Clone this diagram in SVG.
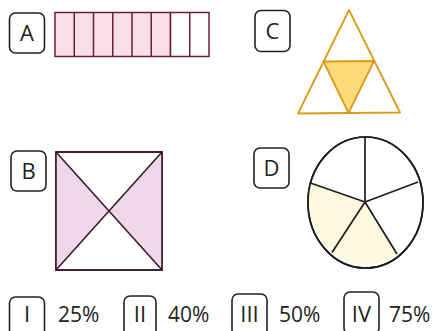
<svg xmlns="http://www.w3.org/2000/svg" width="433" height="331" viewBox="0 0 433 331">
<style>
.lbl{fill:#fff;stroke:#222;stroke-width:1.6}
.t{font-family:"Open Sans","Liberation Sans",sans-serif;font-size:22px;fill:#222;text-anchor:middle}
.p{font-family:"Open Sans","Liberation Sans",sans-serif;font-size:21px;fill:#222}
</style>
<rect width="433" height="331" fill="#fff"/>
<g id="A">
<rect class="lbl" x="9.5" y="13" width="35" height="40" rx="6"/>
<text class="t" x="27" y="41">A</text>
<g stroke="#6b2035" stroke-width="1.5">
<rect x="55" y="12.5" width="115.5" height="44" fill="#f9e0e8"/>
<rect x="170.5" y="12.5" width="38.5" height="44" fill="#fff"/>
<path d="M74.25 12.5V56.5M93.5 12.5V56.5M112.75 12.5V56.5M132 12.5V56.5M151.25 12.5V56.5M189.75 12.5V56.5" fill="none"/>
</g>
</g>
<g id="C">
<rect class="lbl" x="255" y="10.5" width="35" height="41" rx="6"/>
<text class="t" x="272.5" y="39">C</text>
<g stroke="#dc9a18" stroke-width="1.8" stroke-linejoin="round">
<polygon points="349,10 298,113.5 400,112.5" fill="#fff"/>
<polygon points="323.5,61.5 374,61 348.5,113" fill="#fddb78"/>
</g>
</g>
<g id="B">
<rect class="lbl" x="11" y="151" width="35" height="40" rx="6"/>
<text class="t" x="28.5" y="179">B</text>
<g stroke="#3b1a2a" stroke-width="1.6">
<rect x="56" y="152" width="106" height="118" fill="#fff"/>
<polygon points="56,152 109,211 56,270" fill="#f0d8ec" stroke="none"/>
<polygon points="162,152 109,211 162,270" fill="#f0d8ec" stroke="none"/>
<rect x="56" y="152" width="106" height="118" fill="none"/>
<path d="M56 152L162 270M162 152L56 270" fill="none"/>
</g>
</g>
<g id="D">
<rect class="lbl" x="254" y="148" width="35" height="40" rx="6"/>
<text class="t" x="271.5" y="176">D</text>
<g stroke="#1e1e1e" stroke-width="1.7">
<ellipse cx="365.5" cy="202.5" rx="57.5" ry="65.5" fill="#fff"/>
<path d="M365 202L310.5 183A57.5 65.5 0 0 0 332 252.5Z" fill="#fcf9e0" stroke="none"/>
<path d="M365 202L332 252.5A57.5 65.5 0 0 0 397 254Z" fill="#fcf9e0" stroke="none"/>
<ellipse cx="365.5" cy="202.5" rx="57.5" ry="65.5" fill="none"/>
<path d="M365 202V137M365 202L418 182M365 202L397 254M365 202L332 252.5M365 202L310.5 183" fill="none"/>
</g>
</g>
<g id="I">
<rect class="lbl" x="9.5" y="297" width="35" height="42" rx="6"/>
<text class="t" x="27" y="322">I</text>
<text class="p" x="58" y="322">25%</text>
</g>
<g id="II">
<rect class="lbl" x="124" y="296" width="32" height="42" rx="6"/>
<text class="t" x="140" y="322">II</text>
<text class="p" x="168" y="322">40%</text>
</g>
<g id="III">
<rect class="lbl" x="232" y="294" width="35" height="42" rx="6"/>
<text class="t" x="249.5" y="322">III</text>
<text class="p" x="279" y="322">50%</text>
</g>
<g id="IV">
<rect class="lbl" x="344" y="292" width="35" height="42" rx="6"/>
<text class="t" x="361.5" y="322">IV</text>
<text class="p" x="389" y="322">75%</text>
</g>
<g id="connectors"/>
</svg>
